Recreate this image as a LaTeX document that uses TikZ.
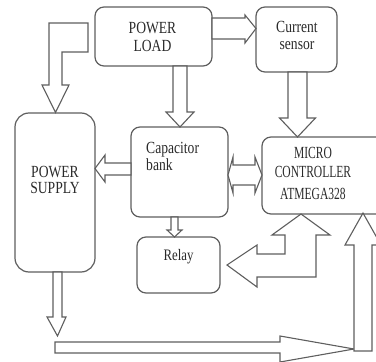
\documentclass[tikz,border=0pt]{standalone}
\usepackage{fontspec}
\setmainfont{Liberation Serif}
\newfontfamily\boxfont[FakeStretch=0.8]{Liberation Serif}
\newfontfamily\narrowfont[FakeStretch=0.68]{Liberation Serif}
\definecolor{edge}{HTML}{5E5E5E}
\definecolor{ink}{HTML}{2A2A2A}
\tikzset{
  blockbox/.style={draw=edge, line width=1.2pt, rounded corners=9pt, fill=white},
  hollow/.style={draw=edge, line width=1.1pt, fill=white, line join=miter},
  lbl/.style={inner sep=0pt, anchor=base, text=ink, font=\boxfont\fontsize{17}{19}\selectfont},
  lblnarrow/.style={lbl, font=\narrowfont\fontsize{17}{19}\selectfont},
}
\begin{document}
\begin{tikzpicture}[x=1pt, y=-1pt]
\useasboundingbox (0,0) rectangle (376,362);
\clip (0,0) rectangle (376,362);

% ---- blocks ----
\draw[blockbox] (95,7) rectangle (212,66);
\node[inner sep=0pt] (load) at (153.5,36.5) {};
\draw[blockbox] (256,7) rectangle (337,72);
\node[inner sep=0pt] (sensor) at (296.5,39.5) {};
\draw[blockbox, rounded corners=14pt] (15,113) rectangle (95,272);
\node[inner sep=0pt] (supply) at (55,192) {};
\draw[blockbox] (131,127) rectangle (228,217);
\node[inner sep=0pt] (cap) at (179.5,172) {};
\draw[blockbox] (262,137) rectangle (400,214);
\node[inner sep=0pt] (mcu) at (313,175.5) {};
\draw[blockbox] (137,237) rectangle (220,293);
\node[inner sep=0pt] (relay) at (178.5,265) {};

% ---- labels ----
\node[lbl] (loadA) at (152.5,33) {POWER};
\node[lbl] (loadB) at (152.5,51) {LOAD};
\node[lbl] (sensA) at (297,32) {Current};
\node[lbl] (sensB) at (297,49) {sensor};
\node[lbl] (supA) at (55,177) {POWER};
\node[lbl] (supB) at (55,193.5) {SUPPLY};
\node[lbl, anchor=base west] (capA) at (146,153) {Capacitor};
\node[lbl, anchor=base west] (capB) at (146,170) {bank};
\node[lblnarrow] (mcuA) at (313,158) {MICRO};
\node[lblnarrow] (mcuB) at (313,177.5) {CONTROLLER};
\node[lblnarrow] (mcuC) at (313,199) {ATMEGA328};
\node[lbl, font=\boxfont\fontsize{16}{18}\selectfont] (relA) at (178.5,260) {Relay};

% ---- hollow arrows ----
% power load -> current sensor
\draw[hollow] (212,18) -- (245,18) -- (245,15) -- (256,28.5) -- (245,43) -- (245,39) -- (212,39) -- cycle;
% power load -> capacitor bank
\draw[hollow] (173,66) -- (173,112) -- (166,112) -- (180,127) -- (194,112) -- (187,112) -- (187,66) -- cycle;
% power load -> power supply (bent)
\draw[hollow] (88,23) -- (49,23) -- (49,85) -- (42,85) -- (55.5,112.5) -- (69,85) -- (62,85) -- (62,52) -- (88,52) -- cycle;
% capacitor bank -> power supply
\draw[hollow] (131,163) -- (105,163) -- (105,155) -- (95,168.5) -- (105,182) -- (105,175) -- (131,175) -- cycle;
% current sensor -> microcontroller
\draw[hollow] (288,72) -- (288,118) -- (279.5,118) -- (297.5,137) -- (315.5,118) -- (307,118) -- (307,72) -- cycle;
% capacitor bank <-> microcontroller
\draw[hollow] (228,175) -- (233,157) -- (233,165) -- (255,165) -- (255,157) -- (262,175) -- (255,193) -- (255,185) -- (233,185) -- (233,193) -- cycle;
% capacitor bank -> relay
\draw[hollow] (171,217) -- (171,230) -- (167,230) -- (174.5,237) -- (182,230) -- (178,230) -- (178,217) -- cycle;
% microcontroller <-> relay (bent)
\draw[hollow] (227,265) -- (257,245) -- (257,254) -- (285,254) -- (285,235) -- (272,235) -- (301,214) -- (330,235) -- (316,235) -- (316,277) -- (257,277) -- (257,287) -- cycle;
% power supply -> bottom bus
\draw[hollow] (53,272) -- (53,317) -- (47,317) -- (57.5,336) -- (66,317) -- (62,317) -- (62,272) -- cycle;
% bottom bus
\draw[hollow] (55,342) -- (280,342) -- (280,336) -- (354,349) -- (280,362) -- (280,353) -- (55,353) -- cycle;
% bus riser -> microcontroller
\draw[hollow] (354,351) -- (354,245) -- (345,245) -- (363,213) -- (381,245) -- (372,245) -- (372,351) -- cycle;
\end{tikzpicture}
\end{document}
